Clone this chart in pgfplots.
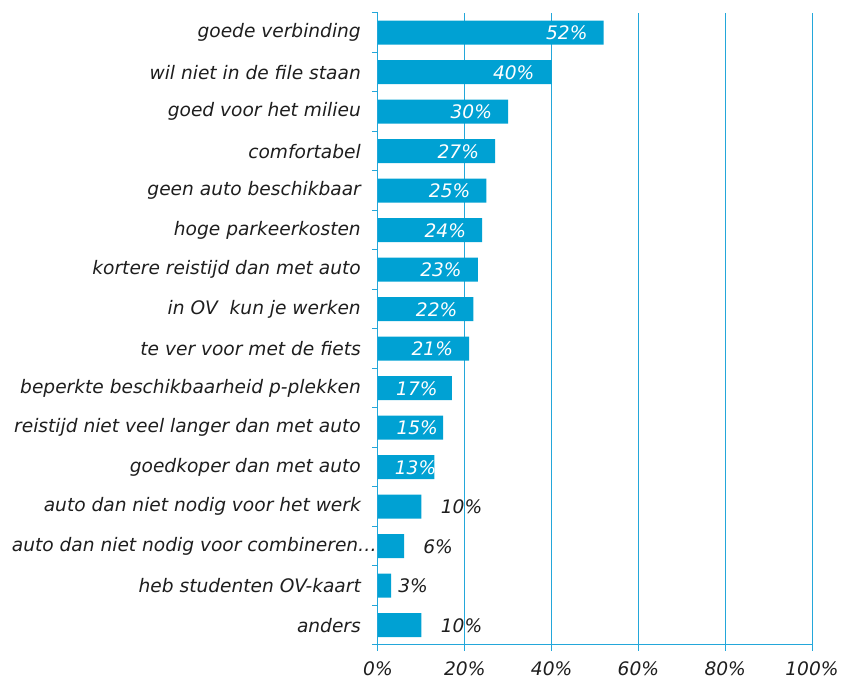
\documentclass[border=0pt]{standalone}
\usepackage{pgfplots}
\usepackage{pgfplotstable}
\pgfplotsset{compat=1.18}
\usepackage{fontspec}
\setmainfont{DejaVu Sans}
\definecolor{barblue}{RGB}{0,161,211}
\definecolor{gridblue}{RGB}{35,167,218}
\definecolor{txt}{RGB}{30,30,30}
\newcommand{\lblfont}{\fontsize{18.6}{21}\selectfont\itshape}

% x = share in %, y = row (0 = bottom), s = shift of the value label (pt, from bar end)
\pgfplotstableread{
x  y  s
13 4  2
15 5  -5
17 6  -14
21 7  -16
22 8  -16
23 9  -16
24 10 -16
25 11 -16
27 12 -16
30 13 -16
40 14 -17
52 15 -16
}\inside
\pgfplotstableread{
x  y  s
10 0  61
3  1  37
6  2  49
10 3  61
}\outside

\begin{document}
\begin{tikzpicture}
\begin{axis}[
    name=ax,
    scale only axis,
    width=434pt, height=632pt,
    xmin=0, xmax=100,
    ymin=-0.5, ymax=15.5,
    axis lines*=left,
    axis line style={gridblue, line width=1pt},
    xtick={0,20,40,60,80,100},
    xticklabels={0\%,20\%,40\%,60\%,80\%,100\%},
    xmajorgrids,
    grid style={gridblue, line width=1pt},
    ytick={0,...,15},
    yticklabels={anders, heb studenten OV-kaart, auto dan niet nodig voor combineren…\kern-16pt,
        auto dan niet nodig voor het werk, goedkoper dan met auto~,
        reistijd niet veel langer dan met auto, beperkte beschikbaarheid p-plekken,
        te ver voor met de fiets, in OV~~kun je werken, kortere reistijd dan met auto,
        hoge parkeerkosten, geen auto beschikbaar, comfortabel, goed voor het milieu,
        wil niet in de file staan, goede verbinding},
    minor ytick={-0.5,0.5,...,15.5},
    tick align=outside,
    major tick length=6pt, minor tick length=6pt,
    major y tick style={draw=none},
    tick style={gridblue, line width=1pt},
    y tick label style={font=\lblfont, text=txt, inner sep=0pt, xshift=-11pt},
    x tick label style={font=\lblfont, text=txt, inner sep=0pt, text depth=0pt, yshift=-10pt},
    xbar, bar width=24pt,
    clip=false,
]
\addplot[fill=barblue, draw=none, bar shift=0pt, point meta=x,
    visualization depends on={\thisrow{s}\as\sh},
    nodes near coords={\pgfmathprintnumber[assume math mode=true]{\pgfplotspointmeta}\%},
    nodes near coords style={font=\lblfont, white, anchor=east, inner sep=0pt, xshift=\sh pt}]
    table[x=x, y=y] {\inside};
\addplot[fill=barblue, draw=none, bar shift=0pt, point meta=x,
    visualization depends on={\thisrow{s}\as\sh},
    nodes near coords={\pgfmathprintnumber[assume math mode=true]{\pgfplotspointmeta}\%},
    nodes near coords style={font=\lblfont, text=txt, anchor=east, inner sep=0pt, xshift=\sh pt}]
    table[x=x, y=y] {\outside};
\end{axis}
\pgfresetboundingbox
\path[use as bounding box] ([shift={(-378pt,-34pt)}]ax.south west) rectangle ([shift={(465pt,645pt)}]ax.south west);
\end{tikzpicture}
\end{document}
